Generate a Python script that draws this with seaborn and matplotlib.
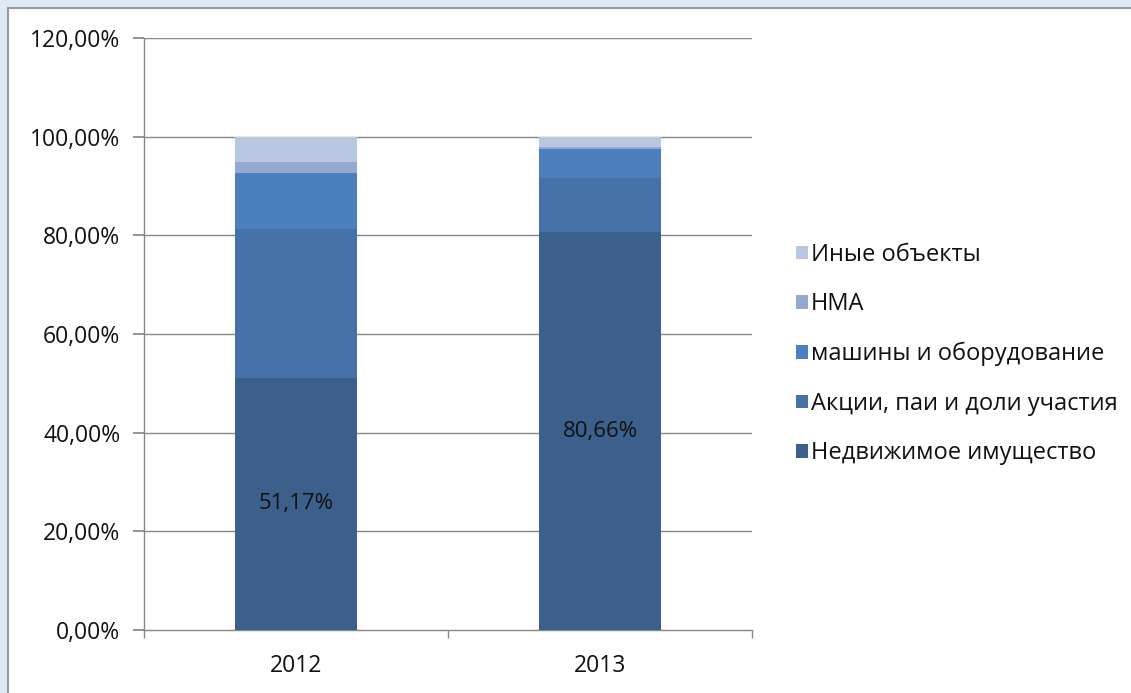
import matplotlib
matplotlib.use("Agg")
import matplotlib.pyplot as plt
import matplotlib.patches as mpatches
from matplotlib.ticker import FuncFormatter
import seaborn as sns
import pandas as pd
import numpy as np

years = ["2012", "2013"]
series_names = ["Недвижимое имущество", "Акции, паи и доли участия",
                "машины и оборудование", "НМА", "Иные объекты"]
nedv = [51.17, 80.66]
akcii = [30.13, 10.90]
mashiny = [11.35, 6.00]
nma = [2.29, 0.30]
inye = [5.06, 2.14]
colors = ["#3c5f8c", "#4572a8", "#4b7fbd", "#93a9cf", "#b9c7e0"]
yticks = [0, 20, 40, 60, 80, 100, 120]

sns.set_theme(style="white")
plt.rcParams['font.family'] = ['Open Sans', 'DejaVu Sans']

fig = plt.figure(figsize=(11.31, 6.93), dpi=100)
fig.patch.set_facecolor("#dfe9f6")
bg = mpatches.Rectangle((8/1131, -0.1), 1.2, 1.1 - 8/693, transform=fig.transFigure,
                        facecolor="white", edgecolor="#9a9a9a", linewidth=1.5, zorder=-5)
fig.patches.append(bg)

ax = fig.add_axes([144/1131, 1 - 630/693, (752-144)/1131, (630-38)/693])
ax.set_facecolor("none")
ax.set_zorder(2)

layers = [nedv, akcii, mashiny, nma, inye]
cum = np.cumsum(np.array(layers), axis=0)
for i in range(len(layers) - 1, -1, -1):
    df = pd.DataFrame({"year": years, "val": cum[i]})
    sns.barplot(data=df, x="year", y="val", color=colors[i], width=0.4,
                saturation=1, ax=ax, zorder=3, linewidth=0)

ax.set_ylim(0, 120)
ax.set_xlim(-0.5, 1.5)
ax.set_yticks(yticks)
ax.yaxis.set_major_formatter(FuncFormatter(lambda v, p: f"{v:.2f}%".replace(".", ",")))
ax.set_xlabel("")
ax.set_ylabel("")
for y in yticks[1:]:
    ax.axhline(y, color="#878787", linewidth=1, zorder=1)

for s in ["top", "right"]:
    ax.spines[s].set_visible(False)
for s in ["left", "bottom"]:
    ax.spines[s].set_color("#878787")
    ax.spines[s].set_linewidth(1)

ax.tick_params(axis="y", which="major", length=8, color="#878787", direction="out",
               labelsize=16.5, labelcolor="#111111", pad=9, left=True)
ax.tick_params(axis="x", which="major", length=0, labelsize=16.5, labelcolor="#111111", pad=17)
ax.set_xticks([-0.5, 0.5, 1.5], minor=True)
ax.tick_params(axis="x", which="minor", length=6, color="#878787", direction="out", bottom=True)

for xi, v in enumerate(nedv):
    ax.text(xi, v / 2, f"{v:.2f}%".replace(".", ","), ha="center", va="center",
            fontsize=16, color="#111111", zorder=5)

handles = [mpatches.Patch(facecolor=colors[i], edgecolor="none", label=series_names[i])
           for i in range(len(series_names) - 1, -1, -1)]
leg = fig.legend(handles=handles, loc="center left", bbox_to_anchor=(796/1131, 1 - 354/693),
                 frameon=False, fontsize=17, handlelength=0.5, handleheight=0.5,
                 handletextpad=0.12, labelspacing=1.08, borderaxespad=0, borderpad=0)
for t in leg.get_texts():
    t.set_color("#111111")

fig.savefig("out.png", dpi=100, facecolor=fig.get_facecolor())
